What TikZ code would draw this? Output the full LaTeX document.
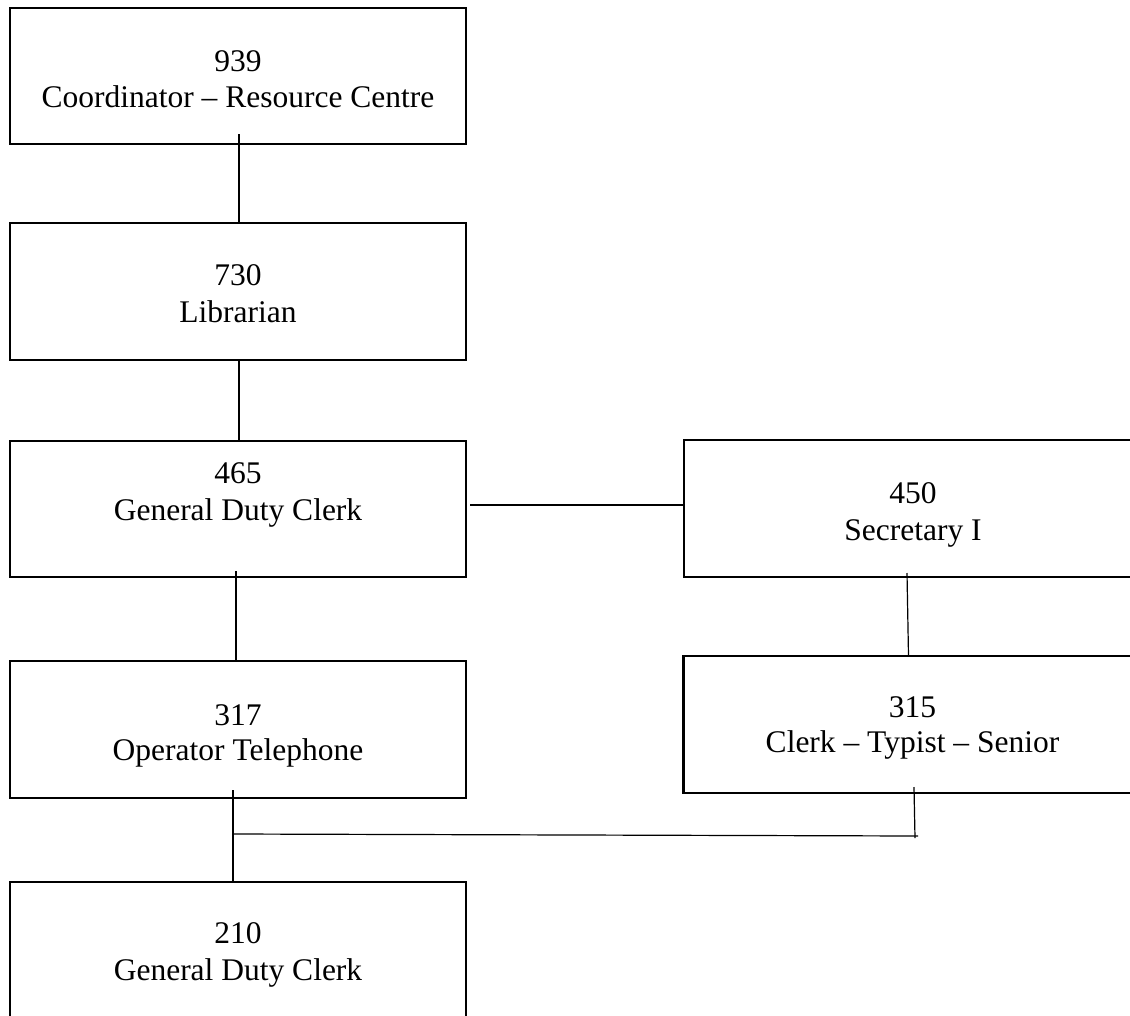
\documentclass[tikz,border=0pt]{standalone}
\usepackage{fontspec}
\setmainfont{Liberation Serif}
\usetikzlibrary{calc}

\begin{document}
\begin{tikzpicture}[x=1pt, y=-1pt,
  post/.style={draw=black, line width=2.8pt, rectangle, inner sep=0pt, outer sep=0pt,
               minimum height=137pt},
  leftpost/.style={post, minimum width=456pt},
  rightpost/.style={post, minimum width=458pt},
  caption/.style={anchor=base, inner sep=0pt, font=\fontsize{31.5}{36}\selectfont},
  link/.style={draw=black, line width=1.2pt}]

  % page frame: the right-hand posts and the lowest post run past the edge
  \path[use as bounding box, clip] (0,0) rectangle (1130,1015);
  \fill[white] (0,0) rectangle (1130,1015);

  % posts
  \node[leftpost, minimum height=136pt] (b939) at (238,76) {};
  \node[leftpost] (b730) at (238,291.5) {};
  \node[leftpost, minimum height=136pt] (b465) at (238,509) {};
  \node[rightpost] (b450) at (913,508.5) {};
  \node[leftpost] (b317) at (238,729.5) {};
  \node[rightpost] (b315) at (912.5,724.5) {};
  \node[leftpost] (b210) at (238,950.5) {};

  % captions: number above title
  \node[caption] (t939a) at (238,71.5) {939};
  \node[caption] (t939b) at (238,107) {Coordinator – Resource Centre};
  \node[caption] (t730a) at (238,285) {730};
  \node[caption] (t730b) at (238,322) {Librarian};
  \node[caption] (t465a) at (238,483) {465};
  \node[caption] (t465b) at (238,520) {General Duty Clerk};
  \node[caption] (t450a) at (913,503) {450};
  \node[caption] (t450b) at (913,540) {Secretary I};
  \node[caption] (t317a) at (238,725) {317};
  \node[caption] (t317b) at (238,760) {Operator Telephone};
  \node[caption] (t315a) at (912.5,717) {315};
  \node[caption] (t315b) at (912.5,752) {Clerk – Typist – Senior};
  \node[caption] (t210a) at (238,943) {210};
  \node[caption] (t210b) at (238,980) {General Duty Clerk};

  % free ends and junctions of the connectors
  \coordinate (j1) at (233,834);
  \coordinate (j2) at (918,836);
  \coordinate (j3) at (915,838);

  % connectors
  \draw[link] ([xshift=1pt, yshift=10pt]b939.south) -- ([xshift=1pt]b730.north);
  \draw[link] ([xshift=1pt]b730.south) -- ([xshift=1pt]b465.north);
  \draw[link] ([xshift=4pt, yshift=4pt]b465.east) -- ([yshift=3.5pt]b450.west);
  \draw[link] ([xshift=-2pt, yshift=6pt]b465.south) -- ([xshift=-2pt]b317.north);
  \draw[link] ([xshift=-6pt, yshift=4pt]b450.south) -- ([xshift=-4pt]b315.north);
  \draw[link] ([xshift=-5pt, yshift=8pt]b317.south) -- ([xshift=-5pt]b210.north);
  \draw[link] (j1) -- (j2);
  \draw[link] ([xshift=1.5pt, yshift=6pt]b315.south) -- (j3);
\end{tikzpicture}
\end{document}
